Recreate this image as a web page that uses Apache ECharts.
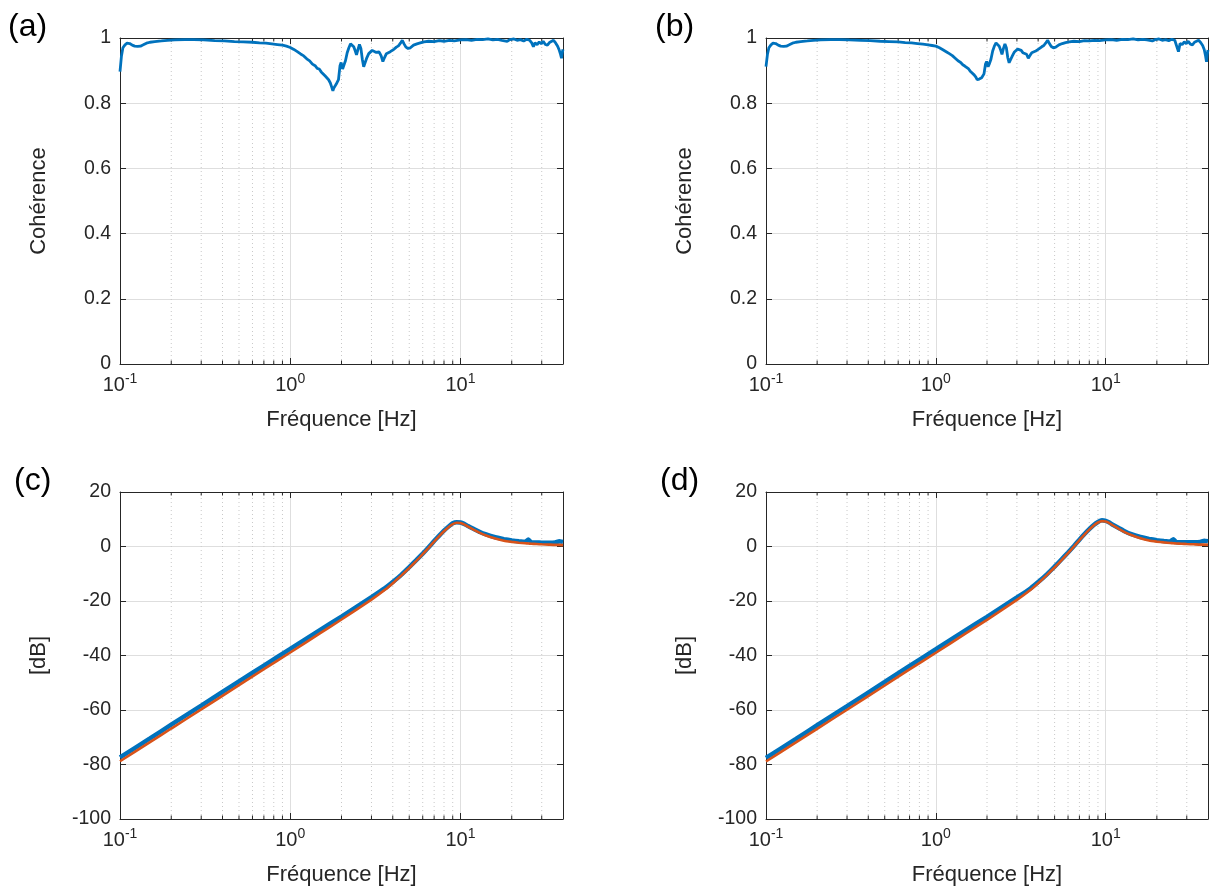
<!DOCTYPE html>
<html><head><meta charset="utf-8">
<script src="https://cdn.jsdelivr.net/npm/echarts@6/dist/echarts.min.js"></script>
<style>html,body{margin:0;padding:0;background:#fff}#c{width:1210px;height:889px}</style>
</head><body><div id="c"></div>
<script>
// ---- data ----
const cohFreqA = [0.100,0.102,0.104,0.107,0.110,0.114,0.118,0.122,0.127,0.132,0.137,0.143,0.150,0.160,0.175,0.19,0.21,0.24,0.27,0.31,0.36,0.41,0.47,0.53,0.60,0.66,0.72,0.78,0.84,0.90,0.95,1.00,1.05,1.10,1.15,1.20,1.25,1.30,1.35,1.40,1.44,1.48,1.52,1.56,1.60,1.64,1.68,1.72,1.75,1.78,1.80,1.83,1.86,1.89,1.92,1.96,1.99,2.03,2.07,2.11,2.16,2.21,2.26,2.31,2.36,2.41,2.45,2.50,2.55,2.60,2.65,2.70,2.75,2.82,2.89,2.96,3.03,3.10,3.18,3.25,3.33,3.42,3.50,3.58,3.67,3.77,3.87,3.97,4.08,4.20,4.32,4.45,4.55,4.66,4.78,4.92,5.08,5.30,5.55,5.80,6.10,6.50,7.00,7.50,8.00,8.60,9.20,10.0,10.8,11.6,12.5,13.5,14.5,15.5,16.5,17.5,18.8,19.5,20.6,21.5,22.5,23.5,24.5,25.5,26.2,26.8,27.4,28.2,29.0,29.8,30.6,31.5,32.4,33.3,34.2,35.2,36.2,37.2,38.0,38.7,39.2,39.6,40.0];
const cohA = [0.897,0.945,0.970,0.979,0.984,0.983,0.978,0.975,0.974,0.975,0.979,0.984,0.987,0.989,0.991,0.993,0.994,0.995,0.995,0.994,0.992,0.991,0.989,0.988,0.987,0.985,0.984,0.982,0.980,0.978,0.975,0.971,0.965,0.958,0.951,0.945,0.936,0.930,0.920,0.915,0.907,0.905,0.896,0.893,0.884,0.880,0.872,0.862,0.850,0.838,0.846,0.842,0.858,0.853,0.872,0.915,0.925,0.905,0.918,0.930,0.955,0.970,0.982,0.978,0.973,0.960,0.948,0.965,0.980,0.968,0.935,0.912,0.918,0.940,0.952,0.958,0.962,0.963,0.956,0.950,0.957,0.945,0.928,0.940,0.952,0.955,0.958,0.963,0.966,0.972,0.976,0.985,0.993,0.982,0.972,0.968,0.970,0.978,0.982,0.985,0.988,0.990,0.989,0.992,0.990,0.993,0.991,0.994,0.995,0.993,0.996,0.995,0.997,0.994,0.996,0.993,0.990,0.995,0.997,0.993,0.995,0.991,0.996,0.993,0.985,0.973,0.985,0.980,0.988,0.982,0.990,0.980,0.978,0.986,0.990,0.993,0.985,0.975,0.963,0.950,0.938,0.955,0.965];

const cohFreqB = [0.100,0.102,0.104,0.107,0.110,0.114,0.118,0.122,0.127,0.132,0.137,0.143,0.150,0.160,0.175,0.19,0.21,0.24,0.27,0.31,0.36,0.41,0.47,0.53,0.60,0.66,0.72,0.78,0.84,0.90,0.95,1.00,1.05,1.10,1.15,1.20,1.25,1.30,1.35,1.40,1.44,1.48,1.52,1.56,1.60,1.64,1.68,1.72,1.75,1.78,1.80,1.83,1.86,1.89,1.92,1.96,1.99,2.03,2.07,2.11,2.16,2.21,2.26,2.31,2.36,2.41,2.45,2.50,2.55,2.60,2.65,2.70,2.75,2.82,2.89,2.96,3.03,3.10,3.18,3.25,3.33,3.42,3.50,3.58,3.67,3.77,3.87,3.97,4.08,4.20,4.32,4.45,4.55,4.66,4.78,4.92,5.08,5.30,5.55,5.80,6.10,6.50,7.00,7.50,8.00,8.60,9.20,10.0,10.8,11.6,12.5,13.5,14.5,15.5,16.5,17.5,18.8,19.5,20.6,21.5,22.5,23.5,24.5,25.5,26.2,26.8,27.4,28.2,29.0,29.8,30.6,31.5,32.4,33.3,34.2,35.2,36.2,37.2,38.0,38.7,39.2,39.6,40.0];
const cohB = [0.912,0.950,0.970,0.979,0.984,0.983,0.978,0.975,0.974,0.975,0.979,0.984,0.987,0.989,0.991,0.993,0.994,0.995,0.995,0.994,0.993,0.992,0.990,0.989,0.988,0.986,0.985,0.983,0.981,0.979,0.977,0.975,0.970,0.964,0.958,0.952,0.946,0.938,0.930,0.925,0.918,0.914,0.908,0.905,0.897,0.893,0.887,0.880,0.872,0.866,0.874,0.868,0.878,0.872,0.890,0.920,0.928,0.912,0.922,0.935,0.960,0.975,0.985,0.980,0.975,0.962,0.950,0.968,0.982,0.970,0.940,0.924,0.928,0.945,0.956,0.962,0.966,0.968,0.962,0.955,0.960,0.950,0.938,0.946,0.955,0.958,0.960,0.965,0.968,0.973,0.977,0.986,0.993,0.983,0.974,0.970,0.972,0.979,0.983,0.986,0.988,0.990,0.989,0.992,0.991,0.993,0.992,0.994,0.995,0.993,0.996,0.995,0.997,0.994,0.996,0.994,0.991,0.995,0.997,0.993,0.995,0.992,0.996,0.993,0.987,0.958,0.983,0.980,0.988,0.983,0.990,0.981,0.979,0.987,0.990,0.993,0.986,0.977,0.965,0.945,0.927,0.950,0.963];

const dbFreq = [0.1,0.15,0.2,0.3,0.5,0.7,1,1.5,2,3,3.6,4.1,4.5,5,5.5,6,6.5,7,7.5,8,8.5,9,9.5,10,10.5,11,12,13,14,16,18,20,22,24,25,26,28,30,33,36,38,40];
const dbMeasC  = [-77.4,-70.4,-65.4,-58.4,-49.5,-43.7,-37.6,-30.6,-25.7,-18.6,-15.3,-12.5,-10.3,-7.6,-5.0,-2.6,-0.3,2.0,4.0,5.8,7.3,8.5,8.9,8.8,8.3,7.6,6.4,5.3,4.5,3.4,2.7,2.2,1.9,1.7,2.6,1.5,1.5,1.4,1.4,1.5,1.9,1.7];
const dbModelC = [-78.8,-71.8,-66.8,-59.8,-50.9,-45.0,-38.9,-31.8,-26.8,-19.5,-15.9,-12.9,-10.6,-7.9,-5.3,-2.8,-0.5,1.8,3.8,5.6,7.1,8.2,8.7,8.6,8.1,7.4,6.1,5.0,4.1,2.9,2.1,1.7,1.4,1.2,1.1,1.0,0.9,0.8,0.7,0.6,0.6,0.5];
const dbMeasD  = [-77.6,-70.6,-65.6,-58.6,-49.7,-43.8,-37.7,-30.7,-25.8,-18.7,-15.4,-12.5,-10.2,-7.4,-4.7,-2.2,0.2,2.5,4.6,6.4,7.9,9.0,9.6,9.4,8.8,8.0,6.7,5.5,4.6,3.5,2.8,2.3,2.0,1.8,2.7,1.6,1.6,1.6,1.6,1.7,2.1,1.9];
const dbModelD = [-78.9,-71.9,-66.9,-59.9,-51.0,-45.1,-39.0,-31.9,-26.9,-19.6,-16.0,-12.9,-10.5,-7.7,-5.0,-2.4,0.0,2.3,4.4,6.2,7.7,8.8,9.3,9.2,8.6,7.8,6.4,5.2,4.3,3.0,2.2,1.8,1.5,1.3,1.2,1.1,1.0,0.9,0.8,0.7,0.7,0.6];

const xMinorTicks = [0.2,0.3,0.4,0.5,0.6,0.7,0.8,0.9,2,3,4,5,6,7,8,9,20,30];
const panelLabels = ['(a)','(b)','(c)','(d)'];
const xTitle = 'Fréquence [Hz]';
const yTitles = ['Cohérence','Cohérence','[dB]','[dB]'];

// ---- chart ----
const FONT = '"Liberation Sans", Arial, Helvetica, sans-serif';
const AX = '#262626';
const GRIDC = '#dedede';
const BLUE = '#0072BD', ORANGE = '#D95319';

const grids = [
  {left:120, top:38, width:443, height:326},
  {left:766, top:38, width:442, height:326},
  {left:120, top:492, width:443, height:327},
  {left:766, top:492, width:442, height:327}
];
const yRanges = [[0,1,0.2],[0,1,0.2],[-100,20,20],[-100,20,20]];

function logLabel(v){
  const e = Math.round(Math.log10(v));
  if (Math.abs(v/Math.pow(10,e)-1) > 1e-6) return '';
  return '{b|10}{s|' + e + '}';
}

const xAxes = [], yAxes = [], series = [], graphics = [];
grids.forEach((g, i) => {
  xAxes.push({
    type:'log', logBase:10, gridIndex:i, min:0.1, max:40, position:'bottom',
    axisLine:{show:true, onZero:false, lineStyle:{color:AX, width:1}},
    axisTick:{show:true, inside:true, length:6, lineStyle:{color:AX}},
    axisLabel:{show:true, formatter:logLabel, margin:8, color:AX, fontFamily:FONT,
      showMaxLabel:false,
      rich:{ b:{fontSize:20, lineHeight:27, fontFamily:FONT, color:AX},
             s:{fontSize:14, lineHeight:15, verticalAlign:'top', fontFamily:FONT, color:AX} }},
    splitLine:{show:true, lineStyle:{color:GRIDC, width:1}},
    name:xTitle, nameLocation:'middle', nameGap:45,
    nameTextStyle:{fontSize:22, color:AX, fontFamily:FONT}
  });
  xAxes.push({
    type:'log', logBase:10, gridIndex:i, min:0.1, max:40, position:'top',
    axisLine:{show:true, onZero:false, lineStyle:{color:AX, width:1}},
    axisTick:{show:true, inside:true, length:6, lineStyle:{color:AX}},
    axisLabel:{show:false}, splitLine:{show:false}
  });
  const r = yRanges[i];
  yAxes.push({
    type:'value', gridIndex:i, min:r[0], max:r[1], interval:r[2], position:'left',
    axisLine:{show:true, onZero:false, lineStyle:{color:AX, width:1}},
    axisTick:{show:true, inside:true, length:6, lineStyle:{color:AX}},
    axisLabel:{show:true, margin:9, fontSize:19.5, color:AX, fontFamily:FONT},
    splitLine:{show:true, lineStyle:{color:GRIDC, width:1}},
    name:yTitles[i], nameLocation:'middle', nameGap:70,
    nameTextStyle:{fontSize:22, color:AX, fontFamily:FONT}
  });
  yAxes.push({
    type:'value', gridIndex:i, min:r[0], max:r[1], interval:r[2], position:'right',
    axisLine:{show:true, onZero:false, lineStyle:{color:AX, width:1}},
    axisTick:{show:true, inside:true, length:6, lineStyle:{color:AX}},
    axisLabel:{show:false}, splitLine:{show:false}
  });
  const yMin = r[0], yMax = r[1];
  series.push({
    type:'custom', xAxisIndex:2*i, yAxisIndex:2*i, silent:true, z:1,
    data: xMinorTicks.map(f => [f, yMin]),
    renderItem: function(params, api){
      const f = api.value(0);
      const p0 = api.coord([f, yMin]);
      const p1 = api.coord([f, yMax]);
      return {type:'group', children:[
        {type:'line', shape:{x1:p0[0], y1:p0[1], x2:p1[0], y2:p1[1]},
         style:{stroke:'#c8c8c8', lineWidth:1, lineDash:[1,3]}},
        {type:'line', shape:{x1:p0[0], y1:p0[1], x2:p0[0], y2:p0[1]-3.5},
         style:{stroke:AX, lineWidth:1}},
        {type:'line', shape:{x1:p1[0], y1:p1[1], x2:p1[0], y2:p1[1]+3.5},
         style:{stroke:AX, lineWidth:1}}
      ]};
    }
  });
});

function pairs(xs, ys){ return xs.map((x, j) => [x, ys[j]]); }

series.push({type:'line', xAxisIndex:0, yAxisIndex:0, data:pairs(cohFreqA, cohA), showSymbol:false,
  lineStyle:{color:BLUE, width:2.8}, z:3});
series.push({type:'line', xAxisIndex:2, yAxisIndex:2, data:pairs(cohFreqB, cohB), showSymbol:false,
  lineStyle:{color:BLUE, width:2.8}, z:3});
series.push({type:'line', xAxisIndex:4, yAxisIndex:4, data:pairs(dbFreq, dbMeasC), showSymbol:false, smooth:0.1,
  lineStyle:{color:BLUE, width:4.5}, z:3});
series.push({type:'line', xAxisIndex:4, yAxisIndex:4, data:pairs(dbFreq, dbModelC), showSymbol:false, smooth:0.1,
  lineStyle:{color:ORANGE, width:2.6}, z:4});
series.push({type:'line', xAxisIndex:6, yAxisIndex:6, data:pairs(dbFreq, dbMeasD), showSymbol:false, smooth:0.1,
  lineStyle:{color:BLUE, width:4.5}, z:3});
series.push({type:'line', xAxisIndex:6, yAxisIndex:6, data:pairs(dbFreq, dbModelD), showSymbol:false, smooth:0.1,
  lineStyle:{color:ORANGE, width:2.6}, z:4});

const labelPos = [[8,28],[655,28],[14,482],[660,482]];
panelLabels.forEach((t, i) => {
  graphics.push({type:'text', left:labelPos[i][0], top:labelPos[i][1]-17,
    style:{text:t, fontSize:32, fontFamily:FONT, fill:'#000'}});
});

const chart = echarts.init(document.getElementById('c'), null, {renderer:'canvas'});
chart.setOption({
  animation:false,
  backgroundColor:'#fff',
  grid: grids,
  xAxis: xAxes,
  yAxis: yAxes,
  series: series,
  graphic: graphics
});
</script>
</body></html>
